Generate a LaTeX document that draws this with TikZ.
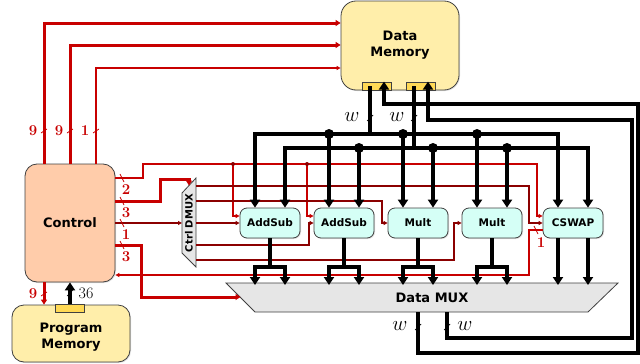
\documentclass[tikz,border=0pt]{standalone}
\usepackage{fontspec}
\newfontfamily\boxfont{DejaVu Sans}
\usetikzlibrary{arrows.meta,shadows}

\definecolor{memfill}{HTML}{FFEEAA}
\definecolor{ctlfill}{HTML}{FFCCAA}
\definecolor{portfill}{HTML}{FFD955}
\definecolor{unitfill}{HTML}{D5FFF6}
\definecolor{muxfill}{HTML}{E6E6E6}
\definecolor{ctlred}{HTML}{C80000}
\definecolor{selred}{HTML}{8B0000}

\tikzstyle{bigbox} = [rectangle,rounded corners=12pt,draw=black!75,line width=.8pt,inner sep=0pt,align=center,drop shadow={opacity=.25,shadow xshift=1pt,shadow yshift=-1pt},font=\boxfont\bfseries\fontsize{13}{16}\selectfont]
\tikzstyle{unit} = [rectangle,rounded corners=7pt,draw=black!75,line width=.8pt,fill=unitfill,minimum width=60pt,minimum height=30pt,inner sep=0pt,drop shadow={opacity=.25,shadow xshift=1pt,shadow yshift=-1pt},font=\boxfont\bfseries\fontsize{10.5}{12}\selectfont]
\tikzstyle{port} = [rectangle,draw=black!75,line width=.8pt,fill=portfill,minimum width=29pt,minimum height=8pt,inner sep=0pt]
\tikzstyle{muxshape} = [draw=black!75,line width=.8pt,fill=muxfill]
\tikzstyle{bus} = [line width=4pt,>={Triangle[length=8pt,width=10pt]}]
\tikzstyle{ctlthick} = [ctlred,line width=3pt,>={Triangle[length=5pt,width=6pt]}]
\tikzstyle{ctlthin} = [ctlred,line width=1.1pt,>={Triangle[length=4pt,width=4pt]}]
\tikzstyle{ctlsel} = [selred,line width=1.1pt,>={Triangle[length=4pt,width=4pt]}]
\tikzstyle{bits} = [ctlred,font=\bfseries\fontsize{15}{15}\selectfont,inner sep=0pt]
\tikzstyle{bitmark} = [line width=.7pt]
\tikzstyle{wlabel} = [font=\fontsize{20}{20}\selectfont,inner sep=0pt]

\begin{document}
\begin{tikzpicture}[x=1pt,y=-1pt]
\useasboundingbox (0,0) rectangle (640,364);

% memories and control
\node[bigbox,fill=memfill,minimum width=118pt,minimum height=89pt,rounded corners=15pt] (dm) at (400,45.5) {Data\\Memory};
\node[port] (dmp1) at (377,86) {};
\node[port] (dmp2) at (421,86) {};
\node[bigbox,fill=ctlfill,minimum width=90pt,minimum height=118pt] (ctl) at (70,223) {Control};
\node[bigbox,fill=memfill,minimum width=118pt,minimum height=57pt,text height=33pt] (pm) at (71,333.5) {Program\\Memory};
\node[port] (pmp) at (70,308) {};

% units
\foreach \i/\x/\t in {1/270/AddSub,2/344/AddSub,3/418/Mult,4/492/Mult,5/573/CSWAP} {
    \node[unit] (u\i) at (\x,223) {\t};
    \coordinate (a\i) at ([xshift=-15pt]u\i.north);
    \coordinate (b\i) at ([xshift=15pt]u\i.north);
    \coordinate (c\i) at ([xshift=-15pt]u\i.south);
    \coordinate (d\i) at ([xshift=15pt]u\i.south);
}

% multiplexers
\draw[muxshape] (182,193) -- (196,178) -- (196,267) -- (182,253) -- cycle;
\node[rotate=90,inner sep=0pt,font=\boxfont\bfseries\fontsize{10}{12}\selectfont] (dmx) at (189,223) {Ctrl DMUX};
\coordinate (dmxin) at (182,223);
\coordinate (dmxout) at (196,223);
\coordinate (dmxtop) at (189,185.5);
\draw[muxshape] (226,283) -- (618,283) -- (588,312) -- (255,312) -- cycle;
\node[font=\boxfont\bfseries\fontsize{13}{16}\selectfont] (mux) at (432,298) {Data MUX};
\coordinate (muxtop) at (432,285);
\coordinate (muxin) at (240.5,297);
\coordinate (mo1) at (418,312);
\coordinate (mo2) at (447,312);

% control lines
\draw[ctlthick,->] ([xshift=-26pt]ctl.north) |- (dm.west |- 0,23);
\draw[ctlthick,->] (ctl.north) |- (dm.west |- 0,45);
\draw[ctlthin,->] ([xshift=26pt]ctl.north) |- (dm.west |- 0,68);
\draw[ctlthick,->] ([xshift=-26pt]ctl.south) -- (44,0 |- pm.north);

\draw[ctlthin,->] (ctl.east |- 0,178) -| (143,164) -| (537,216) -- (u5.west |- 0,216);
\foreach \i/\x in {1/233,2/307} {
    \draw[ctlthin,->] (\x,164) |- (u\i.west |- 0,216);
    \fill[selred] (\x,164) circle (2pt);
}
\draw[ctlthick,->] (ctl.east |- 0,201) -| (160,179) -| (dmxtop);
\draw[ctlsel,->] (ctl.east) -- (dmxin);
\draw[ctlthick,->] (ctl.east |- 0,245) -| (141,297) -- (muxin);
\draw[ctlthin,->] (u5.west |- 0,230) -| (529,275) -- (ctl.east |- 0,275);

\draw[ctlsel,->] (dmxout |- 0,186) -| (529,223) -- (u5.west);
\draw[ctlsel,->] (dmxout |- 0,201) -| (382,223) -- (u3.west);
\draw[ctlsel,->] (dmxout) -- (u1.west);
\draw[ctlsel,->] (dmxout |- 0,245) -| (309,223) -- (u2.west);
\draw[ctlsel,->] (dmxout |- 0,260) -| (454,223) -- (u4.west);

% bit widths
\foreach \x/\t in {33/9,59/9,85/1} {
    \node[bits] at (\x,131) {\t};
    \draw[ctlred,bitmark] (\x+8,133) -- (\x+14,129);
}
\node[bits] (l9) at (33,294) {9};
\draw[ctlred,bitmark] (41,296) -- (47,292);
\foreach \y/\t in {178/2,201/3,223/1,245/3} {
    \node[bits] at (126,\y+12) {\t};
    \draw[ctlred,bitmark] (120,\y-4) -- (124,\y+4);
}
\node[bits] (l1) at (541,243) {1};
\draw[ctlred,bitmark] (534,226) -- (538,234);

% data buses
\coordinate (m1o) at ([xshift=-7pt]dmp1.center);
\coordinate (m1i) at ([xshift=7pt]dmp1.north);
\coordinate (m2o) at ([xshift=-7pt]dmp2.center);
\coordinate (m2i) at ([xshift=7pt]dmp2.north);

\draw[bus,->] (pmp.north) -- (pmp.north |- ctl.south);
\draw[bus] (m1o) -- (m1o |- 0,134) coordinate (bus1);
\draw[bus,->] (bus1) -| (a1);
\draw[bus,->] (bus1) -| (a5);
\draw[bus] (m2o) -- (m2o |- 0,148) coordinate (bus2);
\draw[bus,->] (bus2) -| (b1);
\draw[bus,->] (bus2) -| (b5);
\foreach \i in {2,3,4} {
    \draw[bus,->] (a\i |- bus1) -- (a\i);
    \draw[bus,->] (b\i |- bus2) -- (b\i);
    \fill (a\i |- bus1) circle (5pt);
    \fill (b\i |- bus2) circle (5pt);
}
\foreach \i in {1,...,4} {
    \draw[bus,->] (u\i.south) -- ++(0,29) -| (c\i |- muxtop);
    \draw[bus,->] (u\i.south) -- ++(0,29) -| (d\i |- muxtop);
}
\foreach \p in {c5,d5} {
    \draw[bus,->] (\p) -- (\p |- muxtop);
}
\draw[bus,->] (mo1) |- (638,353) |- (m1i |- 0,104) -- (m1i);
\draw[bus,->] (mo2) |- (632,338) |- (m2i |- 0,120) -- (m2i);

% word widths
\node[wlabel] (w1) at (352,117) {$w$};
\draw[bitmark] (367,121) -- (373,115);
\node[wlabel] (w2) at (397,117) {$w$};
\draw[bitmark] (411,121) -- (417,115);
\node[wlabel] (w3) at (400,326) {$w$};
\draw[bitmark] (415,330) -- (421,324);
\node[wlabel] (w4) at (465,326) {$w$};
\draw[bitmark] (444,330) -- (450,324);
\node[font=\fontsize{16}{16}\selectfont,inner sep=0pt] (n36) at (86,293) {36};
\draw[bitmark] (67,296) -- (73,290);

\end{tikzpicture}
\end{document}
